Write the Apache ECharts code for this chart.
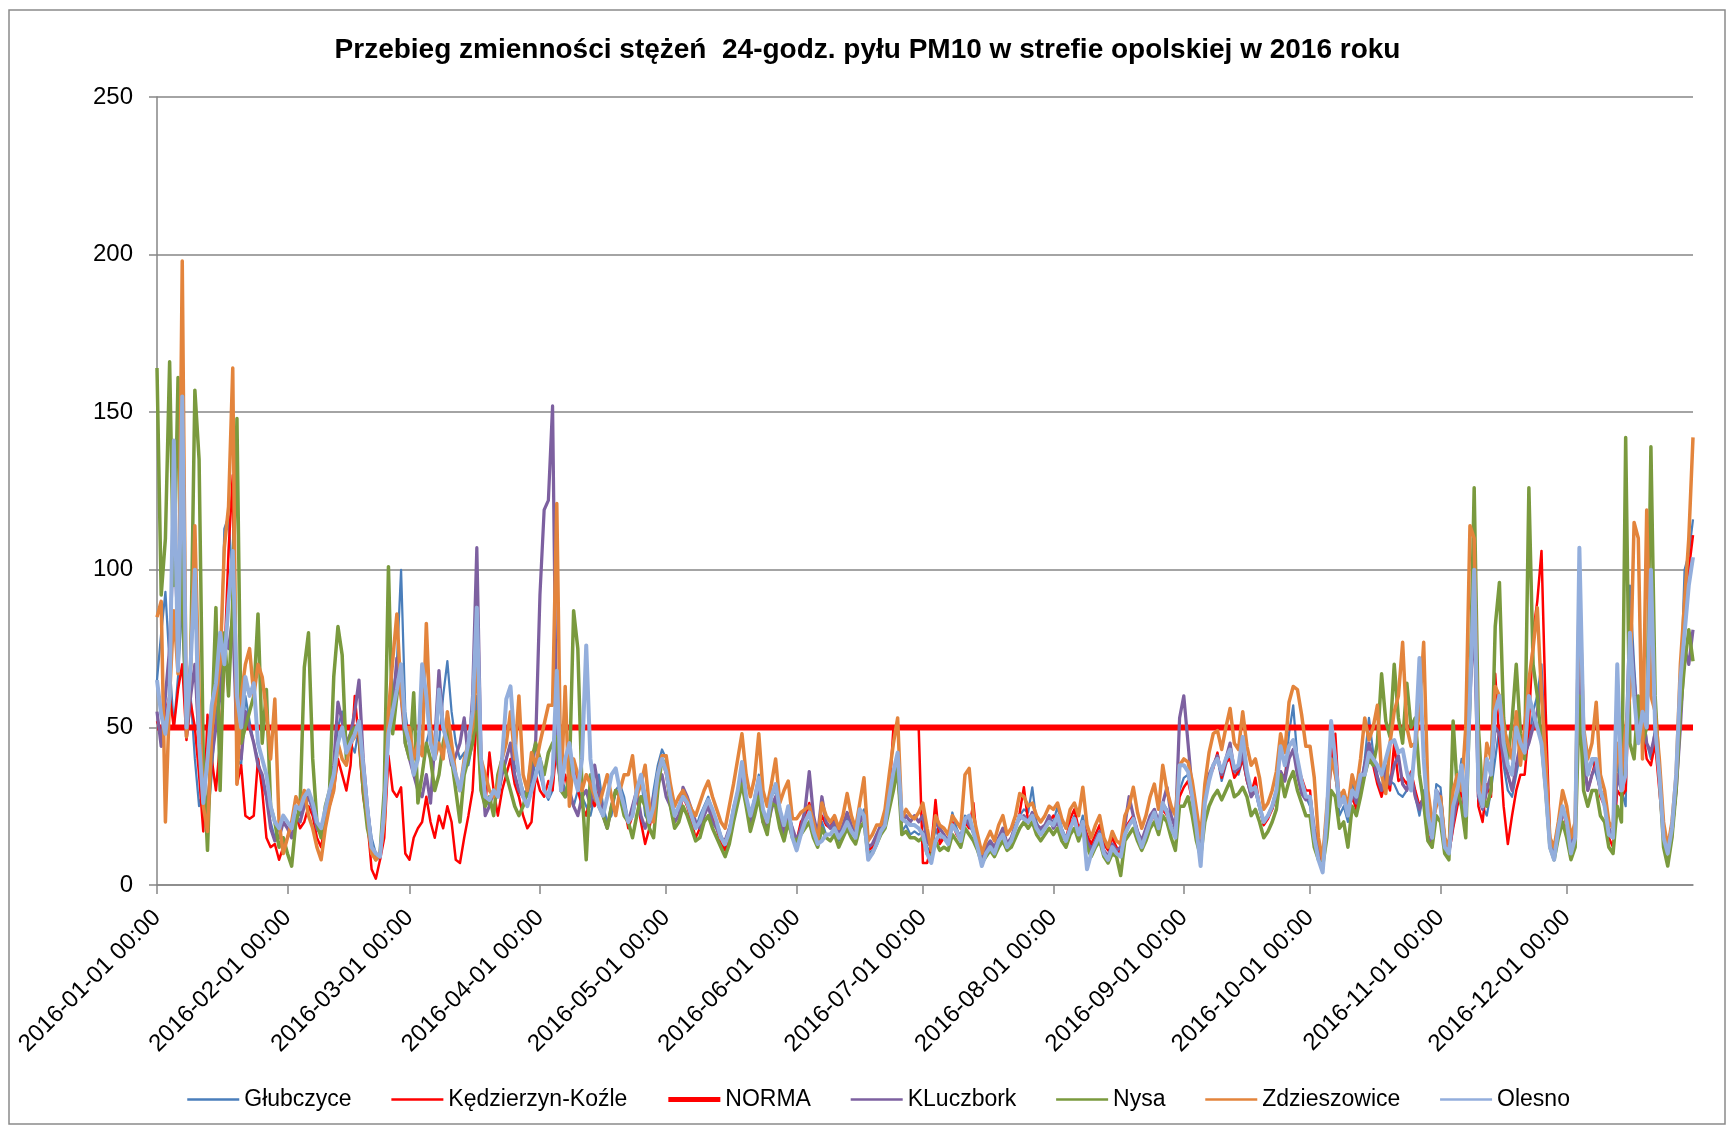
<!DOCTYPE html>
<html>
<head>
<meta charset="utf-8">
<script src="https://cdn.jsdelivr.net/npm/echarts/dist/echarts.min.js"></script>
<style>
html,body{margin:0;padding:0;background:#ffffff;}
#chart{width:1735px;height:1135px;}
</style>
</head>
<body>
<div id="chart"></div>
<script>
// ---------------- DATA ----------------
const titleText = 'Przebieg zmienności stężeń  24-godz. pyłu PM10 w strefie opolskiej w 2016 roku';
const seriesNames = ['Głubczyce', 'Kędzierzyn-Koźle', 'NORMA', 'KLuczbork', 'Nysa', 'Zdzieszowice', 'Olesno'];
const yTicks = [0, 50, 100, 150, 200, 250];
const normaValue = 50;
const dayCount = 366;

const glubczyce = [
65,80,93,70,50,66,90,55,60,40,25,30,20,35,55,60,113,117,95,40,38,60,52,45,40,32,28,20,15,18,22,
20,18,25,22,28,30,25,20,18,22,30,35,50,55,40,45,42,50,38,25,15,10,8,25,56,60,70,100,55,
45,38,30,35,45,50,40,45,60,71,55,45,40,42,38,45,60,40,28,25,30,28,35,40,45,38,35,30,28,32,40,
35,30,27,30,51,35,30,28,25,30,28,25,22,28,35,25,20,22,30,32,28,20,25,30,35,22,20,30,38,43,
40,30,22,25,30,26,22,18,22,25,28,24,20,16,12,18,25,30,38,28,22,28,35,24,20,28,30,22,18,24,18,
11,18,20,24,17,13,20,16,16,19,14,17,21,17,15,21,24,10,11,14,18,19,26,33,38,17,19,16,17,16,
17,12,10,18,14,15,13,23,18,15,22,20,16,13,8,11,13,11,15,17,13,15,19,22,24,23,31,20,17,19,21,
20,25,18,15,19,22,17,22,15,12,14,17,11,9,13,11,10,17,19,21,17,13,17,21,24,19,26,24,19,16,30,
34,35,28,18,10,26,33,38,40,33,38,42,36,35,40,33,28,30,24,19,22,24,28,36,34,48,57,40,33,28,
25,15,10,5,20,45,35,22,25,20,34,25,30,40,53,42,35,30,38,33,32,29,28,30,35,28,22,30,18,15,32,
31,15,12,22,30,40,25,70,95,30,25,22,30,40,50,38,30,28,35,42,40,45,55,60,70,40,15,12,20,25,
20,12,15,90,45,35,40,35,30,28,18,15,40,30,25,95,70,50,60,45,40,50,35,17,12,20,35,60,100,105,116
];

const kedzierzyn = [
52,48,55,60,50,62,70,46,58,50,35,17,54,40,30,45,70,106,130,32,38,22,21,22,40,30,15,12,13,8,12,
15,20,22,18,20,25,22,15,12,20,25,30,40,35,30,38,60,45,28,20,5,2,8,15,41,30,28,31,10,
8,15,18,20,28,20,15,22,18,25,20,8,7,15,22,30,55,30,25,42,30,22,30,35,40,32,28,22,18,20,35,
30,28,33,30,45,30,35,28,40,30,25,22,28,25,30,22,18,25,30,28,25,18,22,28,20,13,18,25,35,40,
35,26,20,22,28,25,20,15,18,22,26,22,18,13,11,16,22,30,35,26,20,25,30,22,18,25,28,20,17,21,16,
14,20,22,26,20,16,22,19,18,22,16,18,20,17,16,20,22,11,12,15,18,20,28,50,50,50,50,50,50,50,
7,7,12,27,13,15,13,20,16,14,20,18,26,12,7,10,12,10,14,16,12,14,18,23,31,20,22,18,16,18,20,
22,20,17,14,21,24,18,20,16,13,16,19,13,11,15,12,10,18,20,22,17,13,17,20,22,18,24,22,18,16,28,
31,33,27,18,11,27,34,37,42,34,39,40,34,36,40,33,29,34,25,19,21,24,29,36,33,44,46,38,34,30,
30,14,9,8,18,40,48,25,30,22,28,24,30,35,45,38,32,28,34,30,45,33,34,32,36,30,25,28,16,12,28,
25,12,10,18,25,30,20,60,90,25,20,32,28,67,45,25,13,22,30,35,35,50,80,90,106,55,15,10,18,25,
18,10,20,85,40,30,35,40,28,25,15,12,30,28,30,70,60,45,50,40,38,45,30,15,10,15,30,55,90,100,111
];

const kluczbork = [
55,44,60,75,113,80,95,47,60,70,45,30,25,40,50,60,79,75,85,45,40,55,50,45,38,35,28,18,14,15,20,
18,15,22,20,25,28,24,18,16,22,28,38,58,52,45,48,55,65,40,25,12,10,9,22,50,55,72,60,45,
40,35,30,28,35,26,45,68,50,45,38,41,45,53,40,60,107,40,22,25,30,28,35,40,45,35,30,28,30,35,46,
92,119,122,152,40,32,28,30,25,22,28,30,25,38,30,22,18,25,30,28,24,20,25,30,22,18,22,28,32,35,
28,25,20,22,31,28,24,20,18,22,25,20,18,15,14,18,22,28,35,26,20,24,30,20,18,24,28,20,16,22,18,
14,18,24,36,22,16,28,20,18,20,16,19,23,19,17,20,22,12,13,16,19,21,26,32,36,20,22,20,22,20,
22,14,12,20,18,16,14,19,17,15,21,19,17,13,9,12,14,12,15,18,13,15,19,21,22,20,23,19,18,19,22,
18,20,16,14,18,21,16,20,14,11,14,17,11,9,13,11,12,19,28,22,17,14,18,22,24,20,26,31,22,18,53,
60,45,30,20,12,28,35,38,41,35,40,45,36,37,42,34,28,30,25,20,22,25,30,36,33,40,43,35,29,27,
28,18,12,8,22,40,38,25,28,22,30,26,32,38,45,40,34,30,36,32,38,41,32,30,35,28,24,28,15,14,30,
28,14,10,20,28,35,22,60,85,28,24,30,35,50,48,40,35,30,38,45,42,45,50,55,65,35,14,10,18,22,
22,12,18,75,40,30,35,38,30,26,18,15,35,30,40,85,65,50,55,45,42,48,35,18,12,18,30,50,75,70,81
];

const nysa = [
164,92,110,166,95,161,90,55,70,157,135,40,11,50,88,30,80,60,90,148,45,50,55,60,86,45,62,25,20,12,15,
10,6,20,25,69,80,40,20,15,25,30,66,82,73,40,48,50,48,30,18,12,8,10,30,101,48,60,70,45,
40,61,26,35,45,40,30,35,45,51,40,30,20,35,40,45,55,30,25,28,22,35,40,35,30,25,22,25,30,40,45,
40,35,42,45,47,30,28,35,87,75,30,8,35,30,25,22,18,25,30,28,22,20,15,22,28,25,18,15,30,40,
38,25,18,20,25,22,18,14,15,20,22,18,15,12,9,13,20,26,32,25,17,22,28,20,16,26,25,18,14,20,15,
14,16,18,20,15,12,18,15,14,16,12,15,18,15,13,18,20,9,10,13,16,18,24,30,37,16,17,15,15,14,
15,10,9,14,11,12,11,16,14,12,18,16,14,11,7,9,11,9,12,14,11,12,15,18,20,18,20,16,14,16,18,
16,18,14,12,16,18,14,18,12,9,12,14,9,7,10,9,3,14,16,18,14,11,14,18,20,16,22,20,15,11,25,
25,28,22,14,9,20,25,28,30,27,30,33,28,29,31,28,22,24,20,15,17,20,24,35,28,33,36,30,26,22,
22,12,8,6,15,30,28,18,20,12,25,22,28,35,40,38,45,67,52,47,70,53,45,64,50,53,35,26,14,12,22,
20,10,8,52,30,25,15,60,126,50,28,25,30,82,96,53,40,52,70,48,40,126,70,60,45,30,12,8,15,20,
15,8,12,60,30,25,30,30,22,20,12,10,25,20,142,45,40,60,45,50,139,60,35,12,6,15,30,55,70,81,71
];

const zdzieszowice = [
85,90,20,60,87,67,198,47,70,114,60,25,17,48,60,70,107,120,164,32,60,70,75,60,70,66,55,40,59,20,10,
15,20,28,25,30,22,18,12,8,18,25,30,45,40,38,45,47,50,35,22,10,8,10,20,55,71,86,60,50,
50,40,45,41,83,50,40,45,40,55,45,35,30,40,45,50,72,40,35,30,28,32,40,45,55,40,60,35,30,42,38,
45,51,57,57,121,30,63,25,40,35,30,35,32,28,25,30,35,28,22,30,35,35,41,28,32,38,25,20,35,41,
41,32,25,28,30,27,24,22,26,30,33,28,24,20,18,25,32,40,48,35,28,34,48,30,25,32,40,26,30,33,21,
21,23,24,25,20,14,26,22,20,22,18,22,29,22,18,26,34,14,16,19,19,24,35,45,53,21,24,22,21,23,
26,18,11,22,19,18,16,22,20,18,35,37,22,16,10,14,17,14,19,22,16,18,22,29,28,25,26,22,20,22,25,
24,26,21,18,24,26,22,31,19,15,19,22,15,12,17,14,13,22,25,31,23,18,22,28,32,24,38,30,25,22,38,
40,39,33,24,15,32,42,48,49,43,50,56,45,43,55,44,38,40,34,24,26,30,36,48,42,58,63,62,54,44,
44,34,15,8,25,40,35,28,30,25,35,30,40,53,46,50,57,35,29,45,55,60,77,50,44,45,55,77,30,20,25,
28,15,12,30,35,30,50,114,110,33,28,45,40,63,60,50,45,40,55,38,50,65,75,88,60,40,15,12,20,30,
25,15,20,95,50,40,45,58,35,30,20,18,45,35,50,60,115,110,40,119,60,55,40,20,12,20,35,70,90,110,142
];

const olesno = [
65,54,48,60,141,68,155,50,70,100,45,26,40,57,64,80,70,90,106,60,50,66,60,64,45,40,35,25,20,18,22,
20,18,25,24,28,30,26,20,18,24,30,35,45,50,42,45,48,52,38,24,12,10,9,24,48,55,62,70,50,
45,35,40,70,60,45,40,62,50,45,40,35,30,38,45,55,88,40,28,27,30,28,40,59,63,45,35,28,25,30,35,
40,30,28,35,68,30,40,45,35,30,40,76,40,30,25,22,28,35,37,30,25,20,22,30,35,28,20,25,35,40,
36,28,22,25,28,26,22,18,20,24,27,24,20,15,13,17,24,30,39,28,22,27,34,24,20,28,32,24,19,25,15,
11,16,20,23,17,13,14,16,16,18,15,17,20,17,15,24,22,8,10,13,17,19,28,36,42,21,20,19,19,18,
16,10,7,14,16,15,13,19,17,14,21,22,17,12,6,10,12,10,14,16,12,14,18,22,21,20,22,18,16,18,20,
19,22,17,14,18,21,16,20,5,10,13,16,10,8,12,10,9,16,19,21,16,12,16,20,23,18,26,23,18,15,38,
38,36,28,18,6,26,33,38,40,36,40,43,37,38,47,36,30,31,25,20,22,25,30,44,38,44,46,40,33,28,
28,15,8,4,22,52,40,25,28,22,30,28,35,35,42,40,38,35,40,45,46,42,43,36,30,45,72,40,22,15,30,
25,12,10,25,30,38,22,60,100,30,25,40,35,55,60,45,38,35,50,45,42,60,55,50,45,30,12,8,18,25,
20,10,15,107,48,35,40,40,30,25,16,15,70,30,35,80,60,45,55,50,100,50,35,15,10,18,35,65,80,95,104
];

// ---------------- CATEGORIES (daily timestamps) ----------------
const categories = [];
for (let i = 0; i < dayCount; i++) {
  const d = new Date(Date.UTC(2016, 0, 1 + i));
  categories.push(d.toISOString().slice(0, 10) + ' 00:00');
}
const norma = categories.map(() => normaValue);

// ---------------- STYLE ----------------
const FONT = 'Liberation Sans, Arial, sans-serif';
const colors = ['#4A7EBB', '#FF0000', '#FF0000', '#7D60A0', '#7A9A3E', '#E3843C', '#93AEDC'];
const widths = [2.25, 2.5, 6, 3.25, 3.5, 3.5, 4];
const dataSets = [glubczyce, kedzierzyn, norma, kluczbork, nysa, zdzieszowice, olesno];
const isMonthStart = (idx) => categories[idx] && categories[idx].slice(8, 10) === '01';

const chart = echarts.init(document.getElementById('chart'), null, { renderer: 'canvas' });
chart.setOption({
  animation: false,
  backgroundColor: '#ffffff',
  title: {
    text: titleText,
    left: 'center',
    top: 31,
    textStyle: { fontFamily: FONT, fontSize: 28, fontWeight: 'bold', color: '#000000' }
  },
  graphic: [{
    type: 'rect',
    shape: { x: 9, y: 10, width: 1716, height: 1114 },
    style: { fill: 'none', stroke: '#8a8a8a', lineWidth: 1.5 },
    silent: true
  }],
  legend: {
    data: seriesNames.map((n, i) => ({
      name: n,
      itemStyle: { opacity: 0 },
      lineStyle: { width: widths[i] > 4 ? 5 : 2.5, color: colors[i] }
    })),
    left: 181,
    top: 1083,
    itemWidth: 52,
    itemHeight: 14,
    itemGap: 38.5,
    itemStyle: { opacity: 0 },
    textStyle: { fontFamily: FONT, fontSize: 23, color: '#000000' }
  },
  grid: { left: 157, right: 42, top: 97, bottom: 250, containLabel: false },
  xAxis: {
    type: 'category',
    data: categories,
    boundaryGap: false,
    axisLine: { lineStyle: { color: '#868686', width: 1.5 } },
    axisTick: { show: true, interval: isMonthStart, length: 9, lineStyle: { color: '#868686', width: 1.5 } },
    axisLabel: {
      interval: isMonthStart,
      rotate: 45,
      margin: 29,
      fontFamily: FONT,
      fontSize: 24,
      color: '#000000'
    },
    splitLine: { show: false }
  },
  yAxis: {
    type: 'value',
    min: yTicks[0],
    max: yTicks[yTicks.length - 1],
    interval: 50,
    axisLine: { show: true, lineStyle: { color: '#868686', width: 1.5 } },
    axisTick: { show: true, length: 8, lineStyle: { color: '#868686', width: 1.5 } },
    axisLabel: { fontFamily: FONT, fontSize: 24, color: '#000000', margin: 24 },
    splitLine: { show: true, lineStyle: { color: '#868686', width: 1.5 } }
  },
  series: seriesNames.map((name, i) => ({
    name: name,
    type: 'line',
    data: dataSets[i],
    symbol: 'none',
    showSymbol: false,
    smooth: false,
    lineStyle: { color: colors[i], width: widths[i], join: 'round' },
    itemStyle: { color: colors[i] },
    emphasis: { disabled: true },
    silent: true
  }))
});
</script>
</body>
</html>
